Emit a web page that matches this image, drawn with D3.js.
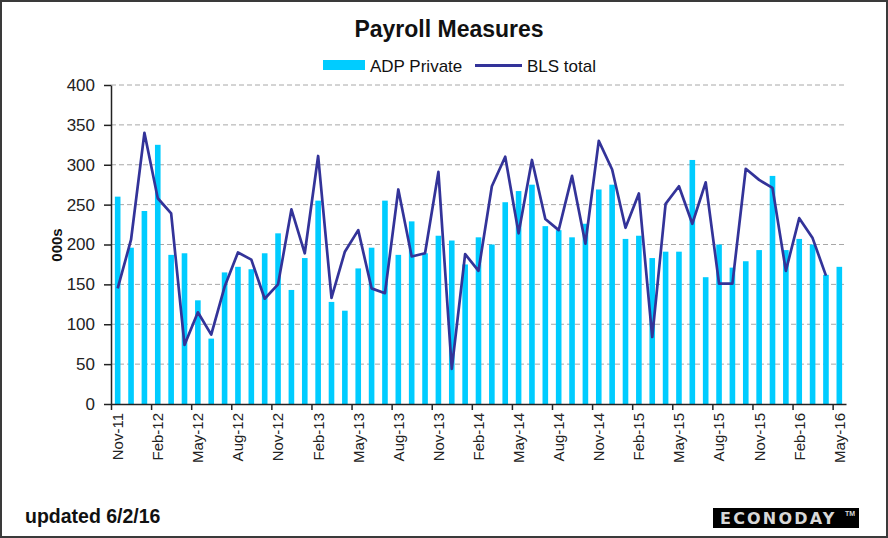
<!DOCTYPE html>
<html>
<head>
<meta charset="utf-8">
<script src="https://cdn.jsdelivr.net/npm/d3@7"></script>
<style>
  html, body { margin: 0; padding: 0; background: #fff; }
  svg { display: block; font-family: "Liberation Sans", Arial, sans-serif; }
</style>
</head>
<body>
<svg id="chart" width="888" height="538"></svg>
<script>
const months = ["Nov-11","Dec-11","Jan-12","Feb-12","Mar-12","Apr-12","May-12","Jun-12","Jul-12","Aug-12","Sep-12","Oct-12",
  "Nov-12","Dec-12","Jan-13","Feb-13","Mar-13","Apr-13","May-13","Jun-13","Jul-13","Aug-13","Sep-13","Oct-13",
  "Nov-13","Dec-13","Jan-14","Feb-14","Mar-14","Apr-14","May-14","Jun-14","Jul-14","Aug-14","Sep-14","Oct-14",
  "Nov-14","Dec-14","Jan-15","Feb-15","Mar-15","Apr-15","May-15","Jun-15","Jul-15","Aug-15","Sep-15","Oct-15",
  "Nov-15","Dec-15","Jan-16","Feb-16","Mar-16","Apr-16","May-16"];
const adpPrivate = [260,196,242,325,187,189,130,82,165,172,169,189,214,143,
  183,255,128,117,170,196,255,187,229,189,211,205,175,
  209,200,253,267,275,223,218,209,226,269,275,207,211,
  183,191,191,306,159,200,171,179,193,286,193,207,200,162,172];
const blsTotal = [145,206,340,258,239,74,115,87,147,190,181,132,150,244,
  189,311,133,191,218,145,139,269,185,189,291,44,188,
  167,273,310,214,306,232,218,286,201,330,294,221,264,
  84,251,273,226,278,151,151,295,281,271,167,233,208,161,null];
const xTickLabels = ["Nov-11","Feb-12","May-12","Aug-12","Nov-12","Feb-13","May-13","Aug-13","Nov-13",
  "Feb-14","May-14","Aug-14","Nov-14","Feb-15","May-15","Aug-15","Nov-15","Feb-16","May-16"];
const yTicks = [0,50,100,150,200,250,300,350,400];

const svg = d3.select("#chart");
const L = 111, R = 846, T = 85, B = 404;

// outer frame
svg.append("rect").attr("x",1).attr("y",1).attr("width",886).attr("height",536)
  .attr("fill","#fff").attr("stroke","#3a3a3a").attr("stroke-width",2);

const x = d3.scaleBand().domain(months).range([L, R]).paddingInner(0.58).paddingOuter(0.29);
const xi = d3.scaleLinear().domain([0, months.length]).range([L, R]);
const y = d3.scaleLinear().domain([0, 400]).range([B, T]);

// gridlines
svg.append("g").selectAll("line").data(yTicks.filter(d => d > 0)).join("line")
  .attr("x1", L).attr("x2", R).attr("y1", d => y(d)).attr("y2", d => y(d))
  .attr("stroke", "#a8a8a8").attr("stroke-width", 1).attr("stroke-dasharray", "5,3");

// bars
svg.append("g").selectAll("rect").data(adpPrivate).join("rect")
  .attr("x", (d, i) => x(months[i])).attr("width", x.bandwidth())
  .attr("y", d => y(d)).attr("height", d => y(0) - y(d))
  .attr("fill", "#00ccff");

// line
const line = d3.line().defined(d => d != null)
  .x((d, i) => x(months[i]) + x.bandwidth() / 2).y(d => y(d));
svg.append("path").datum(blsTotal).attr("d", line)
  .attr("fill", "none").attr("stroke", "#333399").attr("stroke-width", 2.7)
  .attr("stroke-linejoin", "round");

// y axis
const ya = svg.append("g").attr("transform", `translate(${L},0)`)
  .call(d3.axisLeft(y).tickValues(yTicks).tickSize(7).tickPadding(9).tickSizeOuter(0));
ya.select(".domain").attr("stroke", "#222").attr("stroke-width", 1.5);
ya.selectAll(".tick line").attr("stroke", "#222").attr("stroke-width", 1.5);
ya.selectAll("text").attr("font-size", 17).attr("fill", "#222").attr("font-family", "Liberation Sans, Arial, sans-serif");

// x axis boundary ticks
const xa = svg.append("g").attr("transform", `translate(0,${B})`)
  .call(d3.axisBottom(xi).tickValues(d3.range(0, months.length, 3)).tickSize(6).tickFormat("").tickSizeOuter(0));
xa.select(".domain").attr("stroke", "#222").attr("stroke-width", 1.5);
xa.selectAll(".tick line").attr("stroke", "#222").attr("stroke-width", 1.5);

// x axis labels
const xl = svg.append("g").attr("transform", `translate(0,${B})`)
  .call(d3.axisBottom(x).tickValues(xTickLabels).tickSize(0));
xl.select(".domain").remove();
xl.selectAll("text").attr("transform", "rotate(-90)").attr("text-anchor", "end")
  .attr("x", -9).attr("y", 0).attr("dy", "0.36em")
  .attr("font-size", 15).attr("fill", "#222").attr("font-family", "Liberation Sans, Arial, sans-serif");

// y title
svg.append("text").attr("transform", "translate(62,245) rotate(-90)")
  .attr("text-anchor", "middle").attr("font-size", 15).attr("font-weight", "bold").attr("fill", "#111")
  .text("000s");

// title
svg.append("text").attr("x", 449).attr("y", 37).attr("text-anchor", "middle")
  .attr("font-size", 23).attr("font-weight", "bold").attr("fill", "#111").text("Payroll Measures");

// legend
svg.append("rect").attr("x", 323).attr("y", 60).attr("width", 42).attr("height", 10).attr("fill", "#00ccff");
svg.append("text").attr("x", 370).attr("y", 72).attr("font-size", 17).attr("fill", "#111").text("ADP Private");
svg.append("line").attr("x1", 475).attr("x2", 522).attr("y1", 65.5).attr("y2", 65.5)
  .attr("stroke", "#333399").attr("stroke-width", 3);
svg.append("text").attr("x", 527).attr("y", 72).attr("font-size", 17).attr("fill", "#111").text("BLS total");

// footer
svg.append("text").attr("x", 25).attr("y", 523).attr("font-size", 19.5).attr("font-weight", "bold")
  .attr("fill", "#111").text("updated 6/2/16");
svg.append("rect").attr("x", 713).attr("y", 508).attr("width", 146).attr("height", 20).attr("fill", "#000");
svg.append("text").attr("x", 720).attr("y", 524).attr("font-size", 16).attr("font-weight", "bold")
  .attr("letter-spacing", 2.2).attr("fill", "#d8d8d8").attr("font-family", "DejaVu Sans, sans-serif")
  .text("ECONODAY");
svg.append("text").attr("x", 845).attr("y", 516).attr("font-size", 7).attr("font-weight", "bold")
  .attr("fill", "#d8d8d8").text("TM");
</script>
</body>
</html>
